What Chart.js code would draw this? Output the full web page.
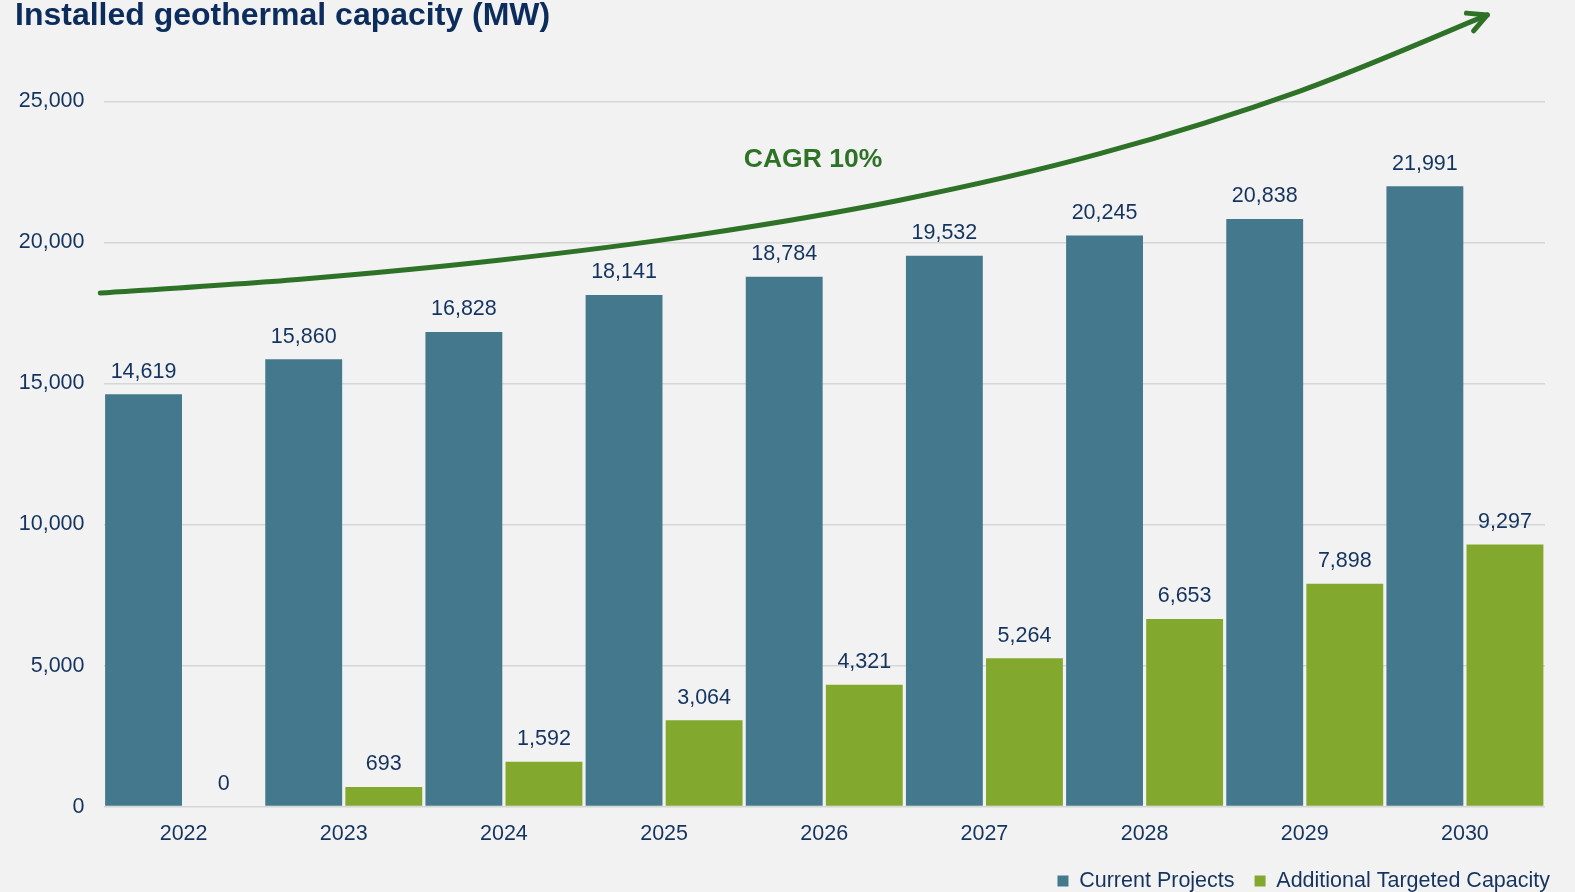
<!DOCTYPE html>
<html>
<head>
<meta charset="utf-8">
<title>Installed geothermal capacity (MW)</title>
<script src="https://cdn.jsdelivr.net/npm/chart.js@4.4.1/dist/chart.umd.min.js"></script>
<style>
    html, body { margin: 0; padding: 0; background: #f2f2f2; overflow: hidden; }
    #wrap { width: 1575px; height: 892px; }
</style>
</head>
<body>
<div id="wrap"><canvas id="capacityChart" width="1575" height="892"></canvas></div>
<script>
// Data
const years = ['2022', '2023', '2024', '2025', '2026', '2027', '2028', '2029', '2030'];
const currentProjects = [14619, 15860, 16828, 18141, 18784, 19532, 20245, 20838, 21991];
const additionalCapacity = [0, 693, 1592, 3064, 4321, 5264, 6653, 7898, 9297];
const yTicks = [0, 5000, 10000, 15000, 20000, 25000];

// CAGR arrow: position on the year axis (0 = 2022) and MW
const arrowX = [-0.52, 0.73, 1.98, 3.22, 4.47, 5.72, 6.97, 8.14];
const arrowY = [18210, 18700, 19380, 20280, 21500, 23150, 25370, 28070];
const cagrText = 'CAGR 10%';
const cagrPos = [3.93, 22950];

const FONT = '"Liberation Sans", Arial, sans-serif';
const NAVY = '#14345f';
const ARROW_GREEN = '#2e7228';

const fmt = v => v.toLocaleString('en-US');

// Value labels above the bars
const barLabels = {
    id: 'barLabels',
    afterDatasetsDraw(chart) {
        const ctx = chart.ctx;
        ctx.save();
        ctx.font = '21.5px ' + FONT;
        ctx.fillStyle = NAVY;
        ctx.textAlign = 'center';
        ctx.textBaseline = 'middle';
        chart.data.datasets.forEach((ds, i) => {
            chart.getDatasetMeta(i).data.forEach((bar, j) => {
                ctx.fillText(fmt(ds.data[j]), bar.x, bar.y - 22.5);
            });
        });
        ctx.restore();
    }
};

// CAGR curve with arrow head and label, placed through the chart's scales
const cagrArrow = {
    id: 'cagrArrow',
    afterDatasetsDraw(chart) {
        const xs = chart.scales.x, ys = chart.scales.y;
        const pts = arrowX.map((x, i) => ({ x: xs.getPixelForValue(x), y: ys.getPixelForValue(arrowY[i]) }));
        const ctx = chart.ctx;
        ctx.save();
        ctx.strokeStyle = ARROW_GREEN;
        ctx.lineWidth = 5;
        ctx.lineCap = 'round';
        ctx.lineJoin = 'round';

        // smooth curve through the traced points (Catmull-Rom)
        ctx.beginPath();
        ctx.moveTo(pts[0].x, pts[0].y);
        for (let i = 0; i < pts.length - 1; i++) {
            const p0 = pts[i - 1] || pts[i];
            const p1 = pts[i];
            const p2 = pts[i + 1];
            const p3 = pts[i + 2] || p2;
            ctx.bezierCurveTo(
                p1.x + (p2.x - p0.x) / 6, p1.y + (p2.y - p0.y) / 6,
                p2.x - (p3.x - p1.x) / 6, p2.y - (p3.y - p1.y) / 6,
                p2.x, p2.y
            );
        }
        ctx.stroke();

        // open arrow head at the end
        const tip = pts[pts.length - 1];
        const prev = pts[pts.length - 2];
        const back = Math.atan2(prev.y - tip.y, prev.x - tip.x);
        const len = 21, spread = 27 * Math.PI / 180;
        ctx.beginPath();
        ctx.moveTo(tip.x + len * Math.cos(back + spread), tip.y + len * Math.sin(back + spread));
        ctx.lineTo(tip.x, tip.y);
        ctx.lineTo(tip.x + len * Math.cos(back - spread), tip.y + len * Math.sin(back - spread));
        ctx.stroke();

        ctx.font = 'bold 26.5px ' + FONT;
        ctx.fillStyle = ARROW_GREEN;
        ctx.textAlign = 'center';
        ctx.textBaseline = 'middle';
        ctx.fillText(cagrText, xs.getPixelForValue(cagrPos[0]), ys.getPixelForValue(cagrPos[1]));
        ctx.restore();
    }
};

const ctx = document.getElementById('capacityChart').getContext('2d');
new Chart(ctx, {
    type: 'bar',
    data: {
        labels: years,
        datasets: [{
            label: 'Current Projects',
            data: currentProjects,
            backgroundColor: '#44788d',
            barPercentage: 0.96,
            categoryPercentage: 1.0
        }, {
            label: 'Additional Targeted Capacity',
            data: additionalCapacity,
            backgroundColor: '#83a82e',
            barPercentage: 0.96,
            categoryPercentage: 1.0
        }]
    },
    options: {
        responsive: false,
        animation: false,
        layout: { padding: { left: 15, right: 5, top: 0, bottom: -9.75 } },
        scales: {
            x: {
                grid: { display: false },
                border: { display: false },
                ticks: { color: NAVY, font: { family: FONT, size: 21.5 }, padding: 7 },
                afterFit: s => { s.height = 43.65; }
            },
            y: {
                min: 0,
                max: 25000,
                grid: { color: '#d6d6d6', lineWidth: 1.5, drawTicks: false },
                border: { display: false },
                ticks: {
                    color: NAVY,
                    font: { family: FONT, size: 21.5 },
                    padding: 19,
                    callback: v => fmt(v)
                },
                afterBuildTicks: s => { s.ticks = yTicks.map(v => ({ value: v })); },
                afterFit: s => { s.width = 88.5; }
            },
            // empty right-hand axis: keeps the plot off the legend's right edge
            yPad: {
                position: 'right',
                grid: { display: false },
                border: { display: false },
                ticks: { display: false },
                afterFit: s => { s.width = 25; }
            }
        },
        plugins: {
            title: {
                display: true,
                text: 'Installed geothermal capacity (MW)',
                align: 'start',
                color: '#0c2d5c',
                font: { family: FONT, size: 32, weight: 'bold' },
                padding: { top: -3.2, bottom: 66.3 }
            },
            legend: {
                position: 'bottom',
                align: 'end',
                labels: {
                    color: NAVY,
                    font: { family: FONT, size: 21.5 },
                    boxWidth: 11,
                    boxHeight: 11,
                    padding: 20
                }
            },
            tooltip: { enabled: false }
        }
    },
    plugins: [barLabels, cagrArrow]
});
</script>
</body>
</html>
